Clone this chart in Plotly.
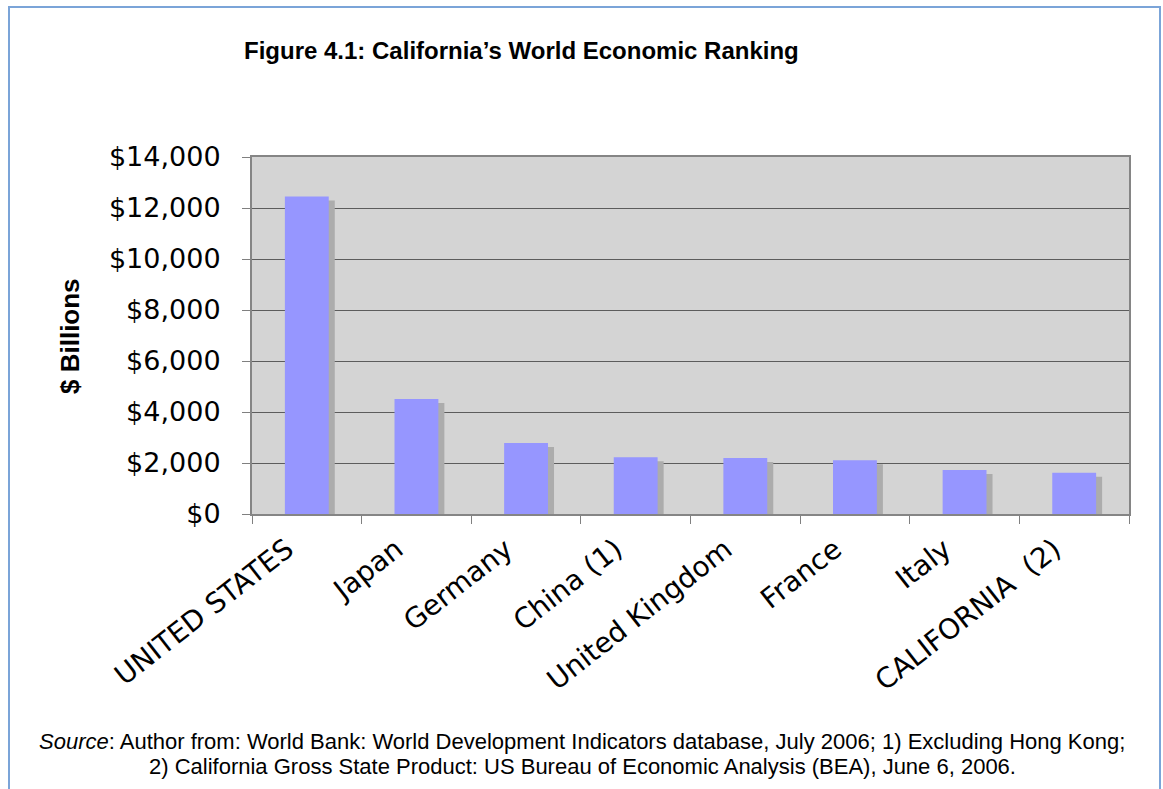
import plotly.graph_objects as go

# GDP in billions of US dollars
countries = ["UNITED STATES", "Japan", "Germany", "China (1)", "United Kingdom",
             "France", "Italy", "CALIFORNIA  (2)"]
gdp_billions = [12455, 4506, 2782, 2229, 2192, 2110, 1723, 1622]

W, H = 1163, 789
L, R, T, B = 252, 1129, 157, 514          # plot area in pixels
plot_w, plot_h = R - L, B - T
y_max = 14000
shadow_dy = 4 * y_max / plot_h              # shadow drop of ~4 px in data units


def px_x(px):
    return (px - L) / plot_w


def px_y(py):
    return (B - py) / plot_h


fig = go.Figure()

# drop shadow behind each bar: same height, lowered a few pixels and shifted right
fig.add_trace(go.Bar(
    x=countries, y=gdp_billions, base=-shadow_dy,
    width=0.4, offset=-0.145,
    marker=dict(color="#acacac", line=dict(width=0)),
    hoverinfo="skip", showlegend=False,
))
# main bars
fig.add_trace(go.Bar(
    x=countries, y=gdp_billions,
    width=0.4, offset=-0.2,
    marker=dict(color="#9696ff", line=dict(width=0)),
    showlegend=False,
))

fig.update_layout(
    width=W, height=H,
    margin=dict(l=L, r=W - R, t=T, b=H - B),
    paper_bgcolor="white",
    plot_bgcolor="#d4d4d4",
    barmode="overlay",
    xaxis=dict(
        type="category",
        tickangle=-38,
        tickfont=dict(family="DejaVu Sans", size=28, color="black"),
        ticks="outside", ticklen=8, tickcolor="#808080", tickwidth=1,
        tickson="boundaries",
        ticklabelshift=-20, ticklabelstandoff=6,
        showline=True, linecolor="#858585", linewidth=2, mirror=True,
        showgrid=False,
    ),
    yaxis=dict(
        range=[0, y_max],
        dtick=2000,
        tickprefix="$", tickformat=",.0f",
        tickfont=dict(family="DejaVu Sans", size=27, color="black"),
        ticks="outside", ticklen=8, tickcolor="#808080", tickwidth=1,
        ticklabelstandoff=16,
        showline=True, linecolor="#858585", linewidth=2, mirror=True,
        showgrid=True, gridcolor="#5c5c5c", gridwidth=1,
        zeroline=False,
    ),
    annotations=[
        dict(text="<b>Figure 4.1: California’s World Economic Ranking</b>",
             xref="paper", yref="paper", x=px_x(521), y=px_y(51),
             xanchor="center", yanchor="middle", showarrow=False,
             font=dict(family="Liberation Sans", size=24, color="black")),
        dict(text="<b>$ Billions</b>",
             xref="paper", yref="paper", x=px_x(70), y=px_y(336),
             xanchor="center", yanchor="middle", showarrow=False, textangle=-90,
             font=dict(family="Liberation Sans", size=26, color="black")),
        dict(text="<i>Source</i>: Author from: World Bank: World Development Indicators database, "
                  "July 2006; 1) Excluding Hong Kong;",
             xref="paper", yref="paper", x=px_x(582), y=px_y(741),
             xanchor="center", yanchor="middle", showarrow=False,
             font=dict(family="Liberation Sans", size=22, color="black")),
        dict(text="2) California Gross State Product: US Bureau of Economic Analysis (BEA), June 6, 2006.",
             xref="paper", yref="paper", x=px_x(582), y=px_y(766),
             xanchor="center", yanchor="middle", showarrow=False,
             font=dict(family="Liberation Sans", size=22, color="black")),
    ],
    shapes=[
        dict(type="rect", xref="paper", yref="paper",
             x0=px_x(9), x1=px_x(1160), y0=px_y(800), y1=px_y(7),
             line=dict(color="#7ba4d8", width=2), fillcolor="rgba(0,0,0,0)",
             layer="below"),
    ],
)

fig.write_html("out.html")
